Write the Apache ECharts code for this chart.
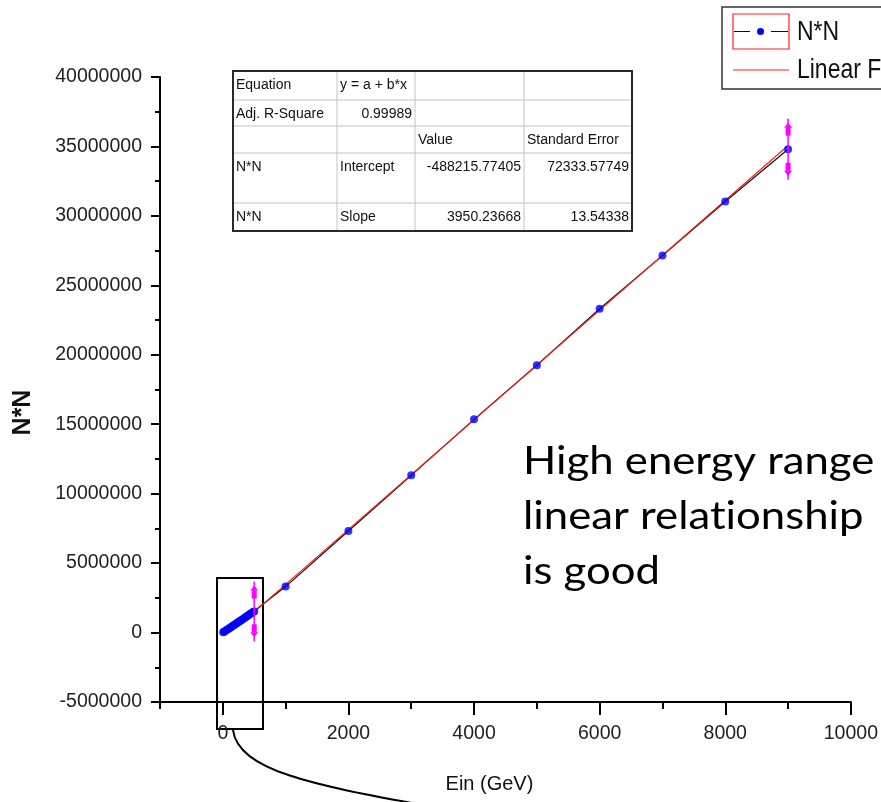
<!DOCTYPE html>
<html>
<head>
<meta charset="utf-8">
<title>N*N vs Ein</title>
<script src="https://cdn.jsdelivr.net/npm/echarts@6/dist/echarts.min.js"></script>
<style>
  html, body { margin: 0; padding: 0; background: #ffffff; }
  #chart { width: 881px; height: 802px; }
</style>
</head>
<body>
<div id="chart"></div>
<script>
// ---- measured data ----
// low-energy scan (GeV) and N*N
const lowEnergy = [5, 20, 40, 60, 80, 100, 120, 140, 160, 180, 200, 220, 240, 260,
                   280, 300, 320, 340, 360, 380, 400, 420, 440, 460, 480, 500];
const lowNN = [15000, 60000, 120000, 180000, 240000, 300000, 365000, 425000, 485000,
               545000, 605000, 665000, 725000, 790000, 850000, 910000, 975000, 1035000,
               1100000, 1160000, 1225000, 1290000, 1350000, 1415000, 1480000, 1520000];
// high-energy scan (GeV) and N*N
const highEnergy = [1000, 2000, 3000, 4000, 5000, 6000, 7000, 8000, 9000];
const highNN = [3310000, 7310000, 11320000, 15350000, 19250000, 23310000, 27140000, 31040000, 34800000];

// error bars: energy, N*N, half-width
const errEnergy = [500, 9000];
const errNN = [1520000, 34800000];
const errHalf = [2150000, 2200000];

// linear fit y = a + b*x
const fitIntercept = -488215.77405;
const fitSlope = 3950.23668;
const fitRange = [500, 9000];

// axis ticks
const xMajorTicks = [0, 2000, 4000, 6000, 8000, 10000];

// fit summary table
const tableRows = [
  ['Equation', 'y = a + b*x', '', ''],
  ['Adj. R-Square', '0.99989', '', ''],
  ['', '', 'Value', 'Standard Error'],
  ['N*N', 'Intercept', '-488215.77405', '72333.57749'],
  ['N*N', 'Slope', '3950.23668', '13.54338']
];

// note text (ZWNJ keeps "t" and "i" as separate glyphs)
const annotationLines = ['High energy range', 'linear relat\u200Cionship', 'is good'];
const legendNames = ['N*N', 'Linear Fit'];

// ---- build ----
const sans = "'Liberation Sans', Arial, sans-serif";

const nnData = lowEnergy.map((e, i) => [e, lowNN[i]])
  .concat(highEnergy.map((e, i) => [e, highNN[i]]));
const fitData = fitRange.map(x => [x, fitIntercept + fitSlope * x]);
const errData = errEnergy.map((e, i) => [e, errNN[i], errHalf[i]]);

// table graphic
const colX = [233, 337, 415, 524, 632];
const rowY = [71, 100, 126, 153, 203, 231];
const tableEls = [];
for (let r = 1; r < rowY.length - 1; r++) {
  tableEls.push({ type: 'line', shape: { x1: colX[0], y1: rowY[r], x2: colX[4], y2: rowY[r] },
    style: { stroke: '#c4c4c4', lineWidth: 1 } });
}
for (let c = 1; c < colX.length - 1; c++) {
  tableEls.push({ type: 'line', shape: { x1: colX[c], y1: rowY[0], x2: colX[c], y2: rowY[5] },
    style: { stroke: '#c4c4c4', lineWidth: 1 } });
}
tableEls.push({ type: 'rect', shape: { x: colX[0], y: rowY[0], width: colX[4] - colX[0], height: rowY[5] - rowY[0] },
  style: { fill: null, stroke: '#2a2a2a', lineWidth: 2 } });
tableRows.forEach((row, r) => {
  row.forEach((txt, c) => {
    if (!txt) return;
    const numeric = /^-?[0-9.]+$/.test(txt);
    tableEls.push({
      type: 'text',
      x: numeric ? colX[c + 1] - 3 : colX[c] + 3,
      y: rowY[r] + 14,
      style: { text: txt, font: '14px ' + sans, fill: '#111', align: numeric ? 'right' : 'left', verticalAlign: 'middle' }
    });
  });
});

// legend graphic
const legendEls = [
  { type: 'rect', shape: { x: 722, y: 7, width: 200, height: 82 }, style: { fill: '#fff', stroke: '#333', lineWidth: 1.5 } },
  { type: 'rect', shape: { x: 733, y: 14, width: 56, height: 35 }, style: { fill: null, stroke: '#ff2020', lineWidth: 1.2 } },
  { type: 'line', shape: { x1: 734, y1: 31.5, x2: 750, y2: 31.5 }, style: { stroke: '#111', lineWidth: 1 } },
  { type: 'line', shape: { x1: 771, y1: 31.5, x2: 788, y2: 31.5 }, style: { stroke: '#111', lineWidth: 1 } },
  { type: 'circle', shape: { cx: 760.5, cy: 31.5, r: 3.5 }, style: { fill: '#0000ff' } },
  { type: 'text', x: 797, y: 32, scaleX: 0.82,
    style: { text: legendNames[0], font: '28px ' + sans, fill: '#111', verticalAlign: 'middle' } },
  { type: 'line', shape: { x1: 733, y1: 70, x2: 789, y2: 70 }, style: { stroke: '#ff2020', lineWidth: 1.2 } },
  { type: 'text', x: 797, y: 70, scaleX: 0.82,
    style: { text: legendNames[1], font: '28px ' + sans, fill: '#111', verticalAlign: 'middle' } }
];

// callout box around the low-energy points, with leader curve
const calloutEls = [
  { type: 'rect', shape: { x: 217, y: 578, width: 46, height: 151 }, style: { fill: null, stroke: '#000', lineWidth: 2 } },
  { type: 'bezierCurve', shape: { x1: 233, y1: 730, cpx1: 238, cpy1: 772, cpx2: 320, cpy2: 786, x2: 428, y2: 806 },
    style: { fill: null, stroke: '#000', lineWidth: 2 } }
];

const noteEls = annotationLines.map((t, i) => ({
  type: 'text', x: 523, y: 462 + i * 55, scaleX: 1.15,
  style: { text: t, font: '38px Lato, "Open Sans", sans-serif', fill: '#000', verticalAlign: 'middle' }
}));

const chart = echarts.init(document.getElementById('chart'), null, { renderer: 'canvas' });

chart.setOption({
  backgroundColor: '#ffffff',
  animation: false,
  grid: { left: 160, right: 29, top: 77, bottom: 100, containLabel: false },
  xAxis: [
    {
      type: 'value', min: -1000, max: 10000, interval: 1000,
      axisLine: { show: true, onZero: false, lineStyle: { color: '#000', width: 2 } },
      axisTick: { show: true, length: 7, lineStyle: { color: '#000', width: 2 } },
      axisLabel: { show: false },
      splitLine: { show: false }
    },
    {
      type: 'value', min: -1000, max: 10000, position: 'bottom',
      axisLine: { show: false, onZero: false },
      axisTick: { show: true, length: 13, customValues: xMajorTicks, lineStyle: { color: '#000', width: 2 } },
      axisLabel: { show: true, customValues: xMajorTicks, margin: 22, color: '#222', fontSize: 19.5, fontFamily: sans,
        formatter: v => String(v) },
      splitLine: { show: false },
      name: 'Ein (GeV)', nameLocation: 'middle', nameGap: 72,
      nameTextStyle: { color: '#111', fontSize: 20, fontFamily: sans, padding: [0, 32, 0, 0] }
    }
  ],
  yAxis: {
    type: 'value', min: -5000000, max: 40000000, interval: 5000000,
    axisLine: { show: true, onZero: false, lineStyle: { color: '#000', width: 2 } },
    axisTick: { show: true, length: 9, lineStyle: { color: '#000', width: 2 } },
    minorTick: { show: true, splitNumber: 2, length: 5, lineStyle: { color: '#000', width: 2 } },
    axisLabel: { color: '#222', fontSize: 19.5, fontFamily: sans, margin: 18, formatter: v => String(v) },
    splitLine: { show: false },
    name: 'N*N', nameLocation: 'middle', nameGap: 124, nameRotate: 90,
    nameTextStyle: { color: '#111', fontSize: 25, fontWeight: 'bold', fontFamily: sans, padding: [0, 46, 0, 0] }
  },
  series: [
    {
      name: 'N*N', type: 'line', xAxisIndex: 0, data: nnData, showSymbol: false,
      lineStyle: { color: '#111', width: 1.2 }, z: 2
    },
    {
      name: 'Linear Fit', type: 'line', xAxisIndex: 0, data: fitData, showSymbol: false,
      lineStyle: { color: '#ff1a1a', width: 1.2 }, z: 3
    },
    {
      name: 'N*N points', type: 'scatter', xAxisIndex: 0, data: nnData,
      symbol: 'circle', symbolSize: 8, itemStyle: { color: '#0000ff' }, z: 4
    },
    {
      name: 'error', type: 'custom', xAxisIndex: 0, data: errData, z: 5,
      renderItem: function (params, api) {
        const x = api.value(0), y = api.value(1), e = api.value(2);
        const top = api.coord([x, y + e]);
        const bot = api.coord([x, y - e]);
        const cx = top[0];
        const col = '#ff00ff';
        const head = (yEnd, dir) => [
          { type: 'polygon', shape: { points: [[cx, yEnd + dir * 4], [cx - 4, yEnd + dir * 9], [cx + 4, yEnd + dir * 9]] },
            style: { fill: col } },
          { type: 'rect', shape: { x: cx - 2.5, y: dir > 0 ? yEnd + 9 : yEnd - 17, width: 5, height: 8 },
            style: { fill: col } }
        ];
        return {
          type: 'group',
          children: [
            { type: 'line', shape: { x1: cx, y1: top[1], x2: cx, y2: bot[1] }, style: { stroke: col, lineWidth: 1.5 } }
          ].concat(head(top[1], 1), head(bot[1], -1))
        };
      }
    }
  ],
  graphic: [].concat(tableEls, legendEls, calloutEls, noteEls)
});
</script>
</body>
</html>
